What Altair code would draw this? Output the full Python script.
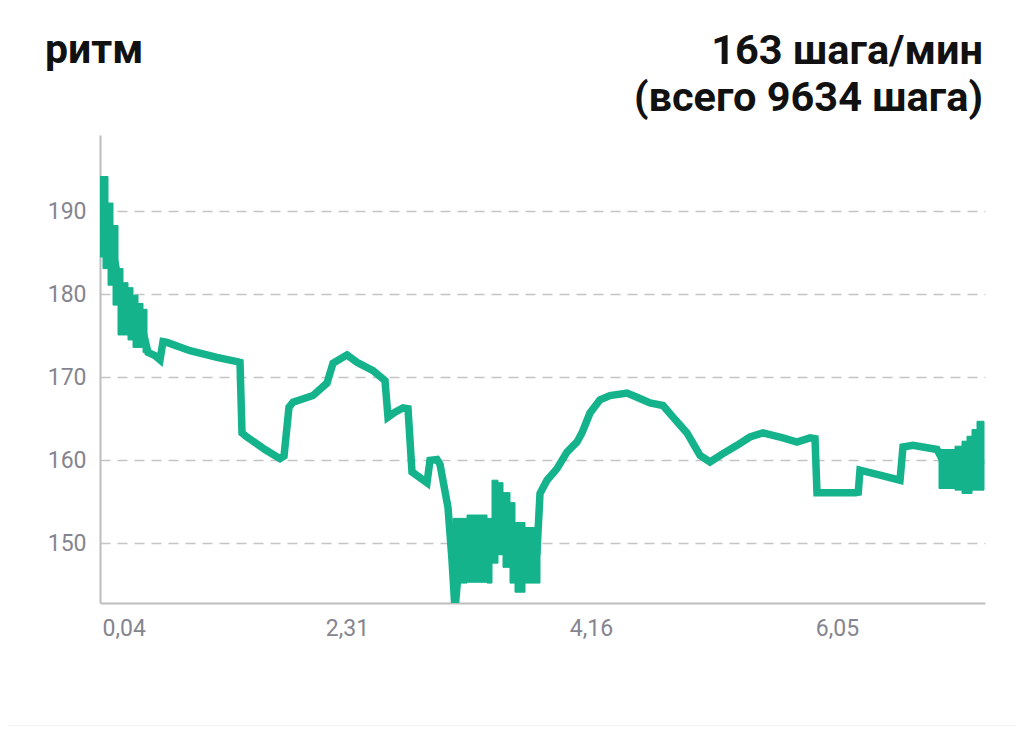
import altair as alt
import pandas as pd

# ---- data ----
TITLE_LEFT = "ритм"
TITLE_RIGHT = "163 шага/мин\n(всего 9634 шага)"

TICK_POS = [2, 247, 491, 737]
TICK_LABELS = ["0,04", "2,31", "4,16", "6,05"]
Y_TICKS = [150, 160, 170, 180, 190]

LINE_X = [0, 8, 13, 18, 23, 30, 38, 43, 48, 55, 60, 63, 67, 90, 117, 137, 140,
          142, 147, 165, 180, 184, 189, 193, 213, 227, 233, 247, 257, 273, 285,
          288, 295, 303, 308, 312, 327, 330, 337, 340, 348, 352, 355, 360, 400,
          437, 440, 447, 457, 467, 477, 482, 490, 500, 510, 527, 537, 550, 563,
          573, 587, 600, 610, 623, 637, 650, 663, 683, 697, 710, 715, 717, 757,
          758, 760, 780, 800, 803, 813, 837, 845, 884]
LINE_Y = [188.5, 186.0, 185.0, 182.0, 178.5, 177.5, 176.5, 175.5, 173.0, 172.6,
          172.1, 174.3, 174.2, 173.2, 172.4, 171.9, 171.8, 163.3, 162.8, 161.3,
          160.2, 160.5, 166.4, 167.0, 167.8, 169.3, 171.7, 172.7, 171.8, 170.8,
          169.6, 165.2, 165.8, 166.3, 166.2, 158.6, 157.3, 160.0, 160.1, 159.5,
          154.3, 148.0, 142.0, 149.0, 149.0, 149.0, 156.0, 157.6, 159.0, 161.0,
          162.2, 163.3, 165.7, 167.3, 167.8, 168.1, 167.6, 166.9, 166.6, 165.2,
          163.3, 160.6, 159.8, 160.8, 161.8, 162.8, 163.3, 162.7, 162.2, 162.7,
          162.6, 156.1, 156.1, 155.8, 158.8, 158.2, 157.6, 161.6, 161.8, 161.3,
          159.5, 160.0]

# oscillating stretches: each step starts at BAND_X and holds until the next one
BAND_SEG = ["a"] * 11 + ["b"] * 11 + ["c"] * 7
BAND_X = [0, 3, 8, 13, 18, 23, 28, 33, 38, 43, 47,
          353, 358, 367, 387, 392, 398, 403, 410, 415, 425, 440,
          839, 855, 862, 867, 872, 877, 884]
BAND_LO = [184.5, 183.1, 181.1, 178.7, 175.1, 175.1, 174.5, 173.6, 173.6, 173.0, 173.0,
           142.5, 145.2, 145.3, 145.2, 147.6, 148.8, 147.1, 145.2, 144.1, 145.2, 145.2,
           156.6, 156.4, 156.0, 156.0, 156.4, 156.4, 156.4]
BAND_HI = [194.2, 194.2, 191.0, 188.3, 183.1, 181.4, 180.8, 179.9, 178.9, 178.2, 178.2,
           153.0, 153.0, 153.4, 153.0, 157.6, 157.3, 156.1, 154.9, 152.5, 151.9, 152.5,
           161.3, 161.7, 162.3, 162.9, 163.7, 164.7, 164.7]

GREEN = "#14b38c"
FONT = "Roboto"

line_df = pd.DataFrame({"x": LINE_X, "y": LINE_Y})

# one rectangle per step of the oscillating stretches
rows = []
for i in range(len(BAND_X) - 1):
    if BAND_SEG[i + 1] == BAND_SEG[i]:
        rows.append({"x": BAND_X[i], "x2": BAND_X[i + 1],
                     "lo": BAND_LO[i], "hi": BAND_HI[i]})
band_df = pd.DataFrame(rows)

label_expr = " : ".join(
    f"datum.value == {p} ? '{l}'" for p, l in zip(TICK_POS, TICK_LABELS)
) + " : ''"

x_scale = alt.Scale(domain=[0, 885], nice=False, zero=False)
y_scale = alt.Scale(domain=[142.8, 199.2], nice=False, zero=False)

x_axis = alt.Axis(values=TICK_POS, labelExpr=label_expr, grid=False, ticks=False,
                  domain=True, domainColor="#bdbdbd", domainWidth=2,
                  labelFont=FONT, labelFontSize=23, labelColor="#85858f",
                  labelPadding=14, labelFlush=6, title=None)
y_axis = alt.Axis(values=Y_TICKS, grid=True, gridDash=[10, 7], gridColor="#c4c4c4",
                  gridWidth=1.5, ticks=False, domain=True, domainColor="#bdbdbd",
                  domainWidth=2, labelFont=FONT, labelFontSize=23,
                  labelColor="#85858f", labelPadding=14, title=None)

line = alt.Chart(line_df).mark_line(
    color=GREEN, strokeWidth=7.5, clip=True, strokeJoin="miter", strokeCap="butt"
).encode(
    x=alt.X("x:Q", scale=x_scale, axis=x_axis),
    y=alt.Y("y:Q", scale=y_scale, axis=y_axis),
)

band = alt.Chart(band_df).mark_rect(
    color=GREEN, opacity=1, clip=True, stroke=GREEN, strokeWidth=1
).encode(
    x=alt.X("x:Q", scale=x_scale, axis=x_axis),
    x2="x2:Q",
    y=alt.Y("lo:Q", scale=y_scale, axis=y_axis),
    y2="hi:Q",
)

t_left = alt.Chart(pd.DataFrame({"t": [TITLE_LEFT]})).mark_text(
    align="left", baseline="alphabetic", font=FONT, fontSize=41,
    fontWeight="bold", color="#111111"
).encode(text="t:N", x=alt.value(-55), y=alt.value(-72))

t_right = alt.Chart(pd.DataFrame({"t": [TITLE_RIGHT]})).mark_text(
    align="right", baseline="alphabetic", font=FONT, fontSize=41.5,
    fontWeight="bold", color="#111111", lineBreak="\n", lineHeight=47
).encode(text="t:N", x=alt.value(883), y=alt.value(-71))

footer = alt.Chart(pd.DataFrame({"k": [0]})).mark_rect(color="#f4f4f4").encode(
    x=alt.value(-100), x2=alt.value(930), y=alt.value(590), y2=alt.value(610)
)

chart = alt.layer(band, line, t_left, t_right, footer).properties(
    width=885, height=468,
    autosize=alt.AutoSizeParams(type="none"),
    padding={"left": 92, "top": 127, "right": 31, "bottom": 123},
    background="white",
).configure_view(stroke=None)

chart.save("out.html", embed_options={"renderer": "svg", "actions": False})
